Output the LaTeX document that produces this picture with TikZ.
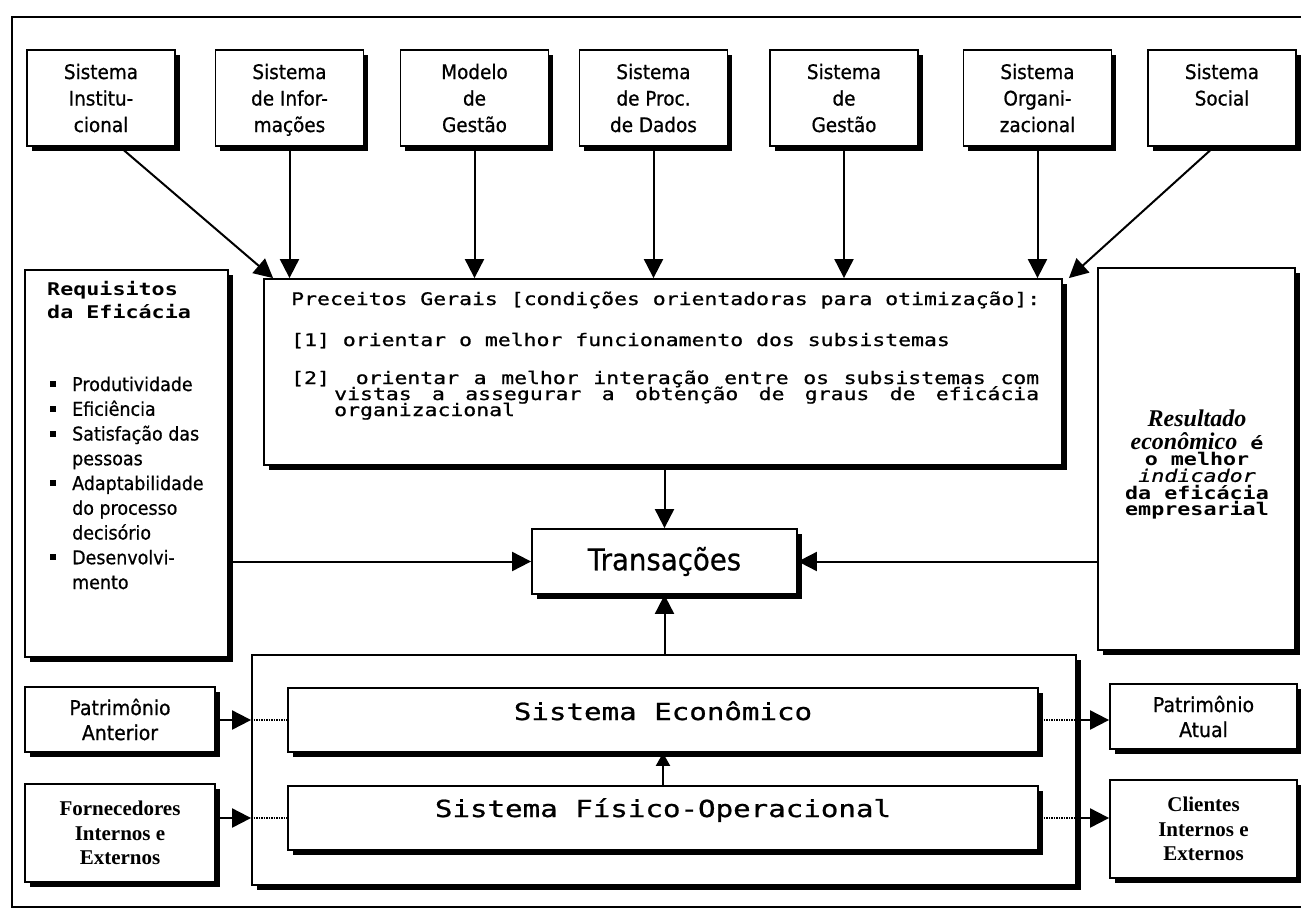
\documentclass[tikz,border=0pt]{standalone}
\usepackage{fontspec}
\usetikzlibrary{arrows.meta,shadows,calc}
\newfontfamily\monof[FakeStretch=1.24,FakeBold=0.9]{DejaVu Sans Mono}
\newfontfamily\monobf[FakeStretch=1.24]{DejaVu Sans Mono Bold}
\newfontfamily\monoit[FakeStretch=1.24,FakeBold=0.6]{DejaVu Sans Mono Oblique}
\newfontfamily\tahf[FakeStretch=0.92,FakeBold=0.7]{DejaVu Sans}
\newfontfamily\timesf{Liberation Serif}
% top box contents: fixed-size box, lines hung from the top
\newcommand\topbox[1]{\parbox[c][96pt][t]{148pt}{\centering\tahf\fontsize{20}{26.5}\selectfont\rule{0pt}{29pt}#1}}
% square bullet for the list of requirements
\newcommand\sqbul{\makebox[22pt][l]{\raisebox{4pt}{\rule{6pt}{6pt}}}}
\newcommand\sqind{\hspace*{22pt}}
\begin{document}
\begin{tikzpicture}[x=1pt,y=-1pt,
  box/.style={draw, line width=1.8pt, fill=white, inner sep=0pt,
    drop shadow={shadow xshift=4.5pt, shadow yshift=-4.5pt, opacity=1, fill=black}},
  tbox/.style={box, minimum width=148pt, minimum height=96pt},
  txt/.style={inner sep=0pt},
  arr/.style={line width=2pt, -{Triangle[length=19pt,width=19pt]}},
  smallarr/.style={line width=2pt, -{Triangle[length=13pt,width=14pt]}},
  dots/.style={line width=1.6pt, dash pattern=on 1.5pt off 1pt},
  mono/.style={font=\monof\fontsize{17.3}{15}\selectfont},
  side/.style={box, align=center, font=\tahf\fontsize{20.5}{25}\selectfont},
  serifside/.style={box, align=center, font=\timesf\bfseries\fontsize{21}{24.5}\selectfont}]
\useasboundingbox (0,0) rectangle (1301,910);

% outer frame
\draw[line width=1.5pt] (1320,17) -- (12,17) -- (12,907) -- (1320,907);

% subsystems along the top
\node[tbox] (b1) at (101,98)    {\topbox{Sistema\\Institu-\\cional}};
\node[tbox] (b2) at (289.5,98)  {\topbox{Sistema\\de Infor-\\mações}};
\node[tbox] (b3) at (474.5,98)  {\topbox{Modelo\\de\\Gestão}};
\node[tbox] (b4) at (653.5,98)  {\topbox{Sistema\\de Proc.\\de Dados}};
\node[tbox] (b5) at (844,98)    {\topbox{Sistema\\de\\Gestão}};
\node[tbox] (b6) at (1037.5,98) {\topbox{Sistema\\Organi-\\zacional}};
\node[tbox] (b7) at (1222,98)   {\topbox{Sistema\\Social}};

% general precepts
\node[box, minimum width=798pt, minimum height=186pt] (prec) at (663,372) {};
\node[txt, mono, anchor=base west] (p0) at (291,305) {Preceitos Gerais [condições orientadoras para otimização]:};
\node[txt, mono, anchor=base west] (p1) at (291,346) {[1] orientar o melhor funcionamento dos subsistemas};
\node[txt, mono, anchor=base west] (p2) at (291,384) {\makebox[748pt][l]{[2]\ \ orientar\hfill a\hfill melhor\hfill interação\hfill entre\hfill os\hfill subsistemas\hfill com}};
\node[txt, mono, anchor=base west] (p3) at (334,400) {\makebox[705pt][l]{vistas\hfill a\hfill assegurar\hfill a\hfill obtenção\hfill de\hfill graus\hfill de\hfill eficácia}};
\node[txt, mono, anchor=base west] (p4) at (334,416) {organizacional};

% effectiveness requirements
\node[box, minimum width=203pt, minimum height=387pt] (req) at (126.5,463.5) {};
\node[txt, anchor=base west] (reqh) at (47,295)
  {\parbox[t]{175pt}{\monobf\fontsize{17.5}{23}\selectfont Requisitos\\da Eficácia}};
\node[txt, anchor=base west] (reql) at (50,391)
  {\parbox[t]{175pt}{\tahf\fontsize{19}{24.75}\selectfont
   \sqbul Produtividade\\
   \sqbul Eficiência\\
   \sqbul Satisfação das\\
   \sqind pessoas\\
   \sqbul Adaptabilidade\\
   \sqind do processo\\
   \sqind decisório\\
   \sqbul Desenvolvi-\\
   \sqind mento}};

% economic result
\node[box, minimum width=197pt, minimum height=382pt] (res) at (1196.5,459) {};
\node[txt, anchor=base] (rest) at (1197,426)
  {\parbox[t]{190pt}{\centering\lineskiplimit=-100pt
   \monobf\fontsize{17.5}{16.3}\selectfont
   {\timesf\bfseries\itshape\fontsize{24}{16.3}\selectfont Resultado}\\[7pt]
   {\timesf\bfseries\itshape\fontsize{24}{16.3}\selectfont econômico} é\\
   o melhor\\
   {\monoit indicador}\\[1pt]
   da eficácia\\
   empresarial}};

% transactions
\node[box, minimum width=265pt, minimum height=65pt,
      font=\tahf\fontsize{30}{36}\selectfont] (tr) at (664.5,561.5) {Transações};

% operational core
\node[box, minimum width=824pt, minimum height=230pt] (cont) at (664,770) {};
\node[box, minimum width=750pt, minimum height=64pt] (econ) at (663,720) {};
\node[box, minimum width=750pt, minimum height=64pt] (fis) at (663,818) {};
\node[txt, anchor=base, font=\monof\fontsize{23.5}{28}\selectfont] (econt) at (663,720) {Sistema Econômico};
\node[txt, anchor=base, font=\monof\fontsize{23.5}{28}\selectfont] (fist) at (663,817) {Sistema Físico-Operacional};

% inputs and outputs
\node[side, minimum width=190pt, minimum height=65pt] (pa) at (120,719.5) {Patrimônio\\Anterior};
\node[serifside, minimum width=190pt, minimum height=98pt] (forn) at (120,833) {Fornecedores\\Internos e\\Externos};
\node[side, minimum width=187pt, minimum height=65pt] (pat) at (1203.5,716.5) {Patrimônio\\Atual};
\node[serifside, minimum width=187pt, minimum height=98pt] (cli) at (1203.5,829) {Clientes\\Internos e\\Externos};

% subsystems feeding the precepts
\draw[arr] ($(b1.south)+(19,0)$) -- ($(prec.north west)+(10,0)$);
\draw[arr] (b2.south) -- (b2.south |- prec.north);
\draw[arr] (b3.south) -- (b3.south |- prec.north);
\draw[arr] (b4.south) -- (b4.south |- prec.north);
\draw[arr] (b5.south) -- (b5.south |- prec.north);
\draw[arr] (b6.south) -- (b6.south |- prec.north);
\draw[arr] ($(b7.south)+(-8,0)$) -- ($(prec.north east)+(6,0)$);

% flows into the transactions
\draw[arr] (prec.south -| tr.north) -- (tr.north);
\draw[arr] (cont.north -| tr.south) -- (tr.south);
\draw[arr] (req.east |- tr.west) -- (tr.west);
\draw[arr] (res.west |- tr.east) -- (tr.east);
\draw[smallarr] (fis.north) -- (econ.south);

% left inputs
\draw[arr] (pa.east |- econ.west) -- (cont.west |- econ.west);
\draw[dots] (cont.west |- econ.west) -- (econ.west);
\draw[arr] (forn.east |- fis.west) -- (cont.west |- fis.west);
\draw[dots] (cont.west |- fis.west) -- (fis.west);

% right outputs
\draw[dots] (econ.east) -- (cont.east |- econ.east);
\draw[arr] (cont.east |- econ.east) -- (pat.west |- econ.east);
\draw[dots] (fis.east) -- (cont.east |- fis.east);
\draw[arr] (cont.east |- fis.east) -- (cli.west |- fis.east);
\end{tikzpicture}
\end{document}
